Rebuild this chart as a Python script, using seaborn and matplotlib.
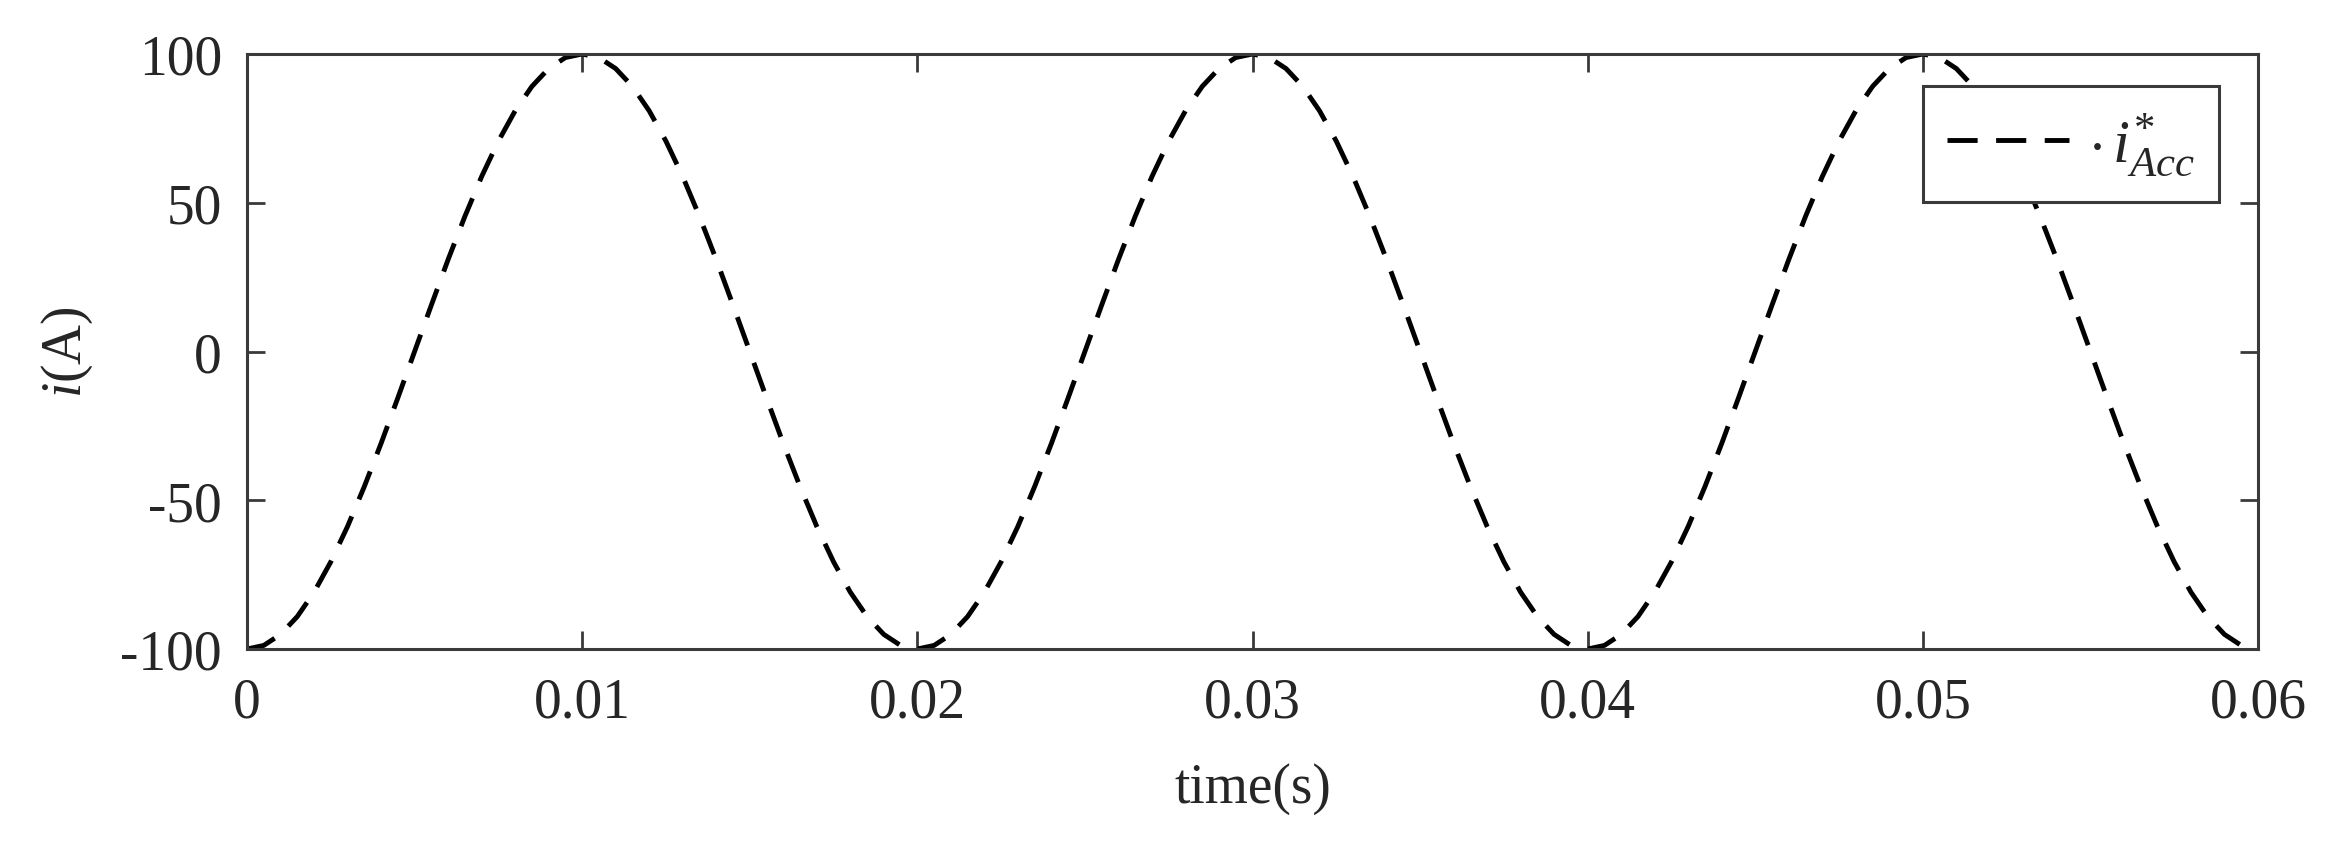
import numpy as np
import matplotlib
matplotlib.use("Agg")
import matplotlib.pyplot as plt
import seaborn as sns

current_A = [
    -100, -98.8, -95.1, -89.1, -80.9, -70.7, -58.8, -45.4, -30.9, -15.6,
    0, 15.6, 30.9, 45.4, 58.8, 70.7, 80.9, 89.1, 95.1, 98.8,
    100, 98.8, 95.1, 89.1, 80.9, 70.7, 58.8, 45.4, 30.9, 15.6,
    0, -15.6, -30.9, -45.4, -58.8, -70.7, -80.9, -89.1, -95.1, -98.8,
    -100, -98.8, -95.1, -89.1, -80.9, -70.7, -58.8, -45.4, -30.9, -15.6,
    0, 15.6, 30.9, 45.4, 58.8, 70.7, 80.9, 89.1, 95.1, 98.8,
    100, 98.8, 95.1, 89.1, 80.9, 70.7, 58.8, 45.4, 30.9, 15.6,
    0, -15.6, -30.9, -45.4, -58.8, -70.7, -80.9, -89.1, -95.1, -98.8,
    -100, -98.8, -95.1, -89.1, -80.9, -70.7, -58.8, -45.4, -30.9, -15.6,
    0, 15.6, 30.9, 45.4, 58.8, 70.7, 80.9, 89.1, 95.1, 98.8,
    100, 98.8, 95.1, 89.1, 80.9, 70.7, 58.8, 45.4, 30.9, 15.6,
    0, -15.6, -30.9, -45.4, -58.8, -70.7, -80.9, -89.1, -95.1, -98.8,
    -100,
]
time_s = np.linspace(0.0, 0.06, len(current_A))

x_ticks = [0, 0.01, 0.02, 0.03, 0.04, 0.05, 0.06]
x_tick_labels = ["0", "0.01", "0.02", "0.03", "0.04", "0.05", "0.06"]
y_ticks = [-100, -50, 0, 50, 100]
y_tick_labels = ["-100", "-50", "0", "50", "100"]
series_label = r"$\cdot\, i^{*}_{Acc}$"
x_label = "time(s)"
y_label = r"$i$(A)"

sns.set_style("ticks")
plt.rcParams["font.family"] = ["Liberation Serif", "DejaVu Serif"]
plt.rcParams["mathtext.fontset"] = "custom"
plt.rcParams["mathtext.rm"] = "Liberation Serif"
plt.rcParams["mathtext.it"] = "Liberation Serif:italic"

W, H, DPI = 2327, 845, 100
fig = plt.figure(figsize=(W / DPI, H / DPI), dpi=DPI)
ax = fig.add_axes([247 / W, 1 - 650 / H, (2258 - 247) / W, (650 - 55) / H])

sns.lineplot(x=time_s, y=current_A, ax=ax, color="black", linewidth=3.5,
             label=series_label, legend=False)
ax.lines[0].set_linestyle((0, (6.2, 3.8)))

ax.set_xlim(0, 0.06)
ax.set_ylim(-100, 100)
ax.set_xticks(x_ticks)
ax.set_xticklabels(x_tick_labels)
ax.set_yticks(y_ticks)
ax.set_yticklabels(y_tick_labels)

spine_color = "#3a3a3a"
text_color = "#262626"
for s in ax.spines.values():
    s.set_visible(True)
    s.set_color(spine_color)
    s.set_linewidth(2.2)

ax.tick_params(axis="both", direction="in", top=True, right=True,
               length=13, width=2.0, color=spine_color,
               labelsize=40, labelcolor=text_color)
ax.tick_params(axis="x", pad=20)
ax.tick_params(axis="y", pad=18)

ax.set_xlabel(x_label, fontsize=40, color=text_color)
ax.xaxis.set_label_coords(0.5, -(763 - 650) / (650 - 55))
ax.set_ylabel(y_label, fontsize=40, color=text_color)
ax.yaxis.set_label_coords(-(247 - 95) / (2258 - 247), 0.5)

leg = ax.legend(loc="upper right", bbox_to_anchor=(2219 / W, 1 - 87 / H),
                bbox_transform=fig.transFigure, fontsize=44, frameon=True,
                fancybox=False, handlelength=2.0, handletextpad=0.3,
                borderpad=0.4, borderaxespad=0)
leg.get_frame().set_edgecolor(spine_color)
leg.get_frame().set_linewidth(2.2)
leg.get_frame().set_alpha(1)
for t in leg.get_texts():
    t.set_color(text_color)

fig.savefig("out.png", dpi=DPI, facecolor="white")
